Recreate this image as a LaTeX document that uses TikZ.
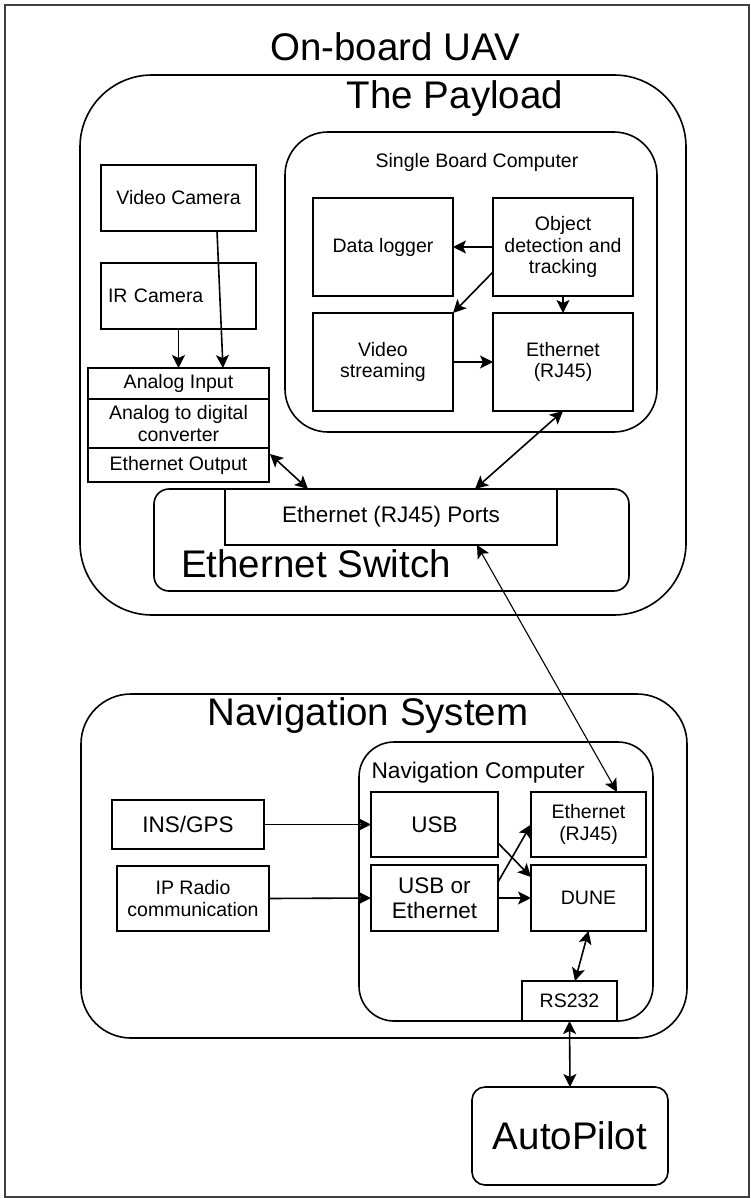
\documentclass[tikz,border=0pt]{standalone}
\usepackage{fontspec}
\setmainfont{Liberation Sans}
\usetikzlibrary{arrows.meta,calc}

\tikzset{
  corners/.style args={#1/#2/#3/#4}{at={({(#1+#3)/2},{(#2+#4)/2})},
    minimum width={#3-#1}, minimum height={#4-#2}},
  box/.style={draw, rectangle, line width=1.6pt, inner sep=0pt, outer sep=0pt,
    align=center, fill=white},
  group/.style={draw, rectangle, line width=1.6pt, inner sep=0pt, outer sep=0pt},
  txs/.style={font=\fontsize{19.5}{21.5}\selectfont, align=center},
  txm/.style={font=\fontsize{22.5}{25}\selectfont, align=center},
  txl/.style={font=\fontsize{38.5}{44}\selectfont},
  link/.style={line width=1.6pt, -{Stealth[length=13pt,width=13pt,inset=3pt]}},
  dlink/.style={line width=1.6pt, {Stealth[length=13pt,width=13pt,inset=3pt]}-{Stealth[length=13pt,width=13pt,inset=3pt]}},
}

\begin{document}
\begin{tikzpicture}[x=1pt,y=-1pt]
\useasboundingbox (0,0) rectangle (751,1198);

% outer frame
\node[group, draw=black!75, line width=2pt, corners=5/5/748.5/1196.5] (uav) {};
\node[txl, anchor=base] (uavt) at (395,61) {On-board UAV};

% ---------------- payload ----------------
\node[group, rounded corners=72pt, corners=80/75/686/615] (pay) {};
\node[txl, anchor=base] (payt) at (455,109) {The Payload};

\node[box, txs, corners=101/165/256/231] (vc) {Video Camera};
\node[box, txs, corners=101/263/256/329, align=left, text width=141pt, inner xsep=7pt] (ir) {IR Camera};

\node[box, txs, corners=88/368/269/399] (ain) {Analog Input};
\node[box, txs, corners=88/399/269/448] (adc) {Analog to digital\\converter};
\node[box, txs, corners=88/448/269/482] (eout) {Ethernet Output};

% single board computer
\node[group, rounded corners=43pt, corners=285/132/657/432] (sbc) {};
\node[txs, anchor=center] (sbct) at (477,162) {Single Board Computer};
\node[box, txs, corners=313/198/453/296] (dl) {Data logger};
\node[box, txs, corners=493/198/633/296] (obj) {Object\\detection and\\tracking};
\node[box, txs, corners=313/313/453/411] (vs) {Video\\streaming};
\node[box, txs, corners=493/313/633/411] (seth) {Ethernet\\(RJ45)};

% ethernet switch
\node[group, rounded corners=15pt, corners=154/489/629/591] (sw) {};
\node[box, txm, corners=225/489/557/545] (ports) {Ethernet (RJ45) Ports};
\node[txl, anchor=center] (swt) at (316,564) {Ethernet Switch};

% ---------------- navigation ----------------
\node[group, rounded corners=50pt, corners=81/694/687/1038] (nav) {};
\node[txl, anchor=center] (navt) at (368,716) {Navigation System};

\node[box, txm, corners=112/800/264/849] (ins) {INS/GPS};
\node[box, txs, corners=117/866/269/931] (ipr) {IP Radio\\communication};

\node[group, rounded corners=35pt, corners=359/742/653/1021] (nc) {};
\node[font=\fontsize{22.7}{25}\selectfont, anchor=west] (nct) at (368,773) {Navigation Computer};
\node[box, txm, corners=371/792/498/857] (usb) {USB};
\node[box, txm, corners=371/865/498/931] (usbe) {USB or\\Ethernet};
\node[box, txs, corners=531/792/646/857] (neth) {Ethernet\\(RJ45)};
\node[box, txs, corners=531/865/646/931] (dune) {DUNE};
\node[box, txs, corners=522/981/617/1021] (rs) {RS232};

% autopilot
\node[box, txl, rounded corners=13pt, corners=472/1087/668/1185] (ap) {AutoPilot};

% ---------------- connectors ----------------
\draw[link] ([xshift=38.5]vc.south) -- ([xshift=44.5]ain.north);
\draw[link] (ir.south) -- (ain.north);
\draw[dlink] ([xshift=1,yshift=-6]eout.north east) -- ([xshift=154]sw.north west);
\draw[dlink] (seth.south) -- ([xshift=250]ports.north west);
\draw[dlink, line width=1.1pt] ([xshift=252]ports.south west) -- ([xshift=86]neth.north west);

\draw[link] (obj.west) -- (dl.east);
\draw[link] ([yshift=-25]obj.west) -- (vs.north east);
\draw[link] (obj.south) -- (seth.north);
\draw[link] (vs.east) -- (seth.west);

\draw[link] (ins.east) -- (usb.west);
\draw[link] (ipr.east) -- (usbe.west);
\draw[link] ([yshift=-18.5]usb.east) -- ([yshift=-12]dune.north west);
\draw[link] ([yshift=16]usbe.east) -- (neth.west);
\draw[link] (usbe.east) -- (dune.west);
\draw[dlink] (dune.south) -- ([xshift=5.5]rs.north);
\draw[dlink] (rs.south) -- (ap.north);
\end{tikzpicture}
\end{document}
